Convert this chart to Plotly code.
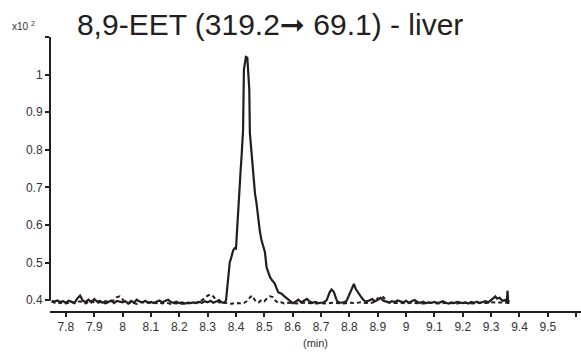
import plotly.graph_objects as go

# ---- data (time in min, intensity in x10^2 counts) ----
solid_t = [7.75, 7.76, 7.77, 7.78, 7.79, 7.80, 7.81, 7.82, 7.83, 7.84, 7.85, 7.86, 7.87, 7.88, 7.89,
           7.90, 7.91, 7.92, 7.93, 7.94, 7.95, 7.96, 7.97, 7.98, 7.99, 8.00, 8.01, 8.02, 8.03, 8.04,
           8.05, 8.06, 8.07, 8.08, 8.09, 8.10, 8.11, 8.12, 8.13, 8.14, 8.15, 8.16, 8.17, 8.18, 8.19,
           8.20, 8.21, 8.22, 8.23, 8.24, 8.25, 8.26, 8.27, 8.28, 8.29, 8.30, 8.31, 8.32, 8.33, 8.34,
           8.35, 8.36, 8.365, 8.372, 8.378, 8.384, 8.39, 8.395, 8.40, 8.405, 8.411, 8.416, 8.420,
           8.425, 8.428, 8.432, 8.435, 8.440, 8.444, 8.447, 8.449, 8.455, 8.460, 8.467, 8.472, 8.478,
           8.484, 8.490, 8.496, 8.502, 8.508, 8.514, 8.520, 8.528, 8.537, 8.543, 8.549, 8.555, 8.561,
           8.568, 8.578, 8.59, 8.60, 8.61, 8.62, 8.63, 8.64, 8.65, 8.66, 8.67, 8.68, 8.69, 8.70, 8.71,
           8.72, 8.73, 8.737, 8.745, 8.755, 8.76, 8.77, 8.78, 8.79, 8.80, 8.81, 8.816, 8.822, 8.83,
           8.84, 8.85, 8.86, 8.87, 8.88, 8.89, 8.90, 8.91, 8.92, 8.93, 8.94, 8.95, 8.96, 8.97, 8.98,
           8.99, 9.00, 9.01, 9.02, 9.03, 9.04, 9.05, 9.06, 9.07, 9.08, 9.09, 9.10, 9.11, 9.12, 9.13,
           9.14, 9.15, 9.16, 9.17, 9.18, 9.19, 9.20, 9.21, 9.22, 9.23, 9.24, 9.25, 9.26, 9.27, 9.28,
           9.29, 9.30, 9.31, 9.315, 9.32, 9.33, 9.34, 9.35, 9.355, 9.358, 9.36, 9.362]
solid_v = [0.398, 0.396, 0.399, 0.395, 0.397, 0.393, 0.398, 0.396, 0.392, 0.404, 0.412, 0.398, 0.395, 0.401, 0.394,
           0.403, 0.396, 0.398, 0.393, 0.397, 0.395, 0.399, 0.392, 0.398, 0.396, 0.394, 0.397, 0.391, 0.398, 0.393,
           0.401, 0.396, 0.394, 0.398, 0.393, 0.395, 0.392, 0.396, 0.399, 0.394, 0.397, 0.401, 0.395, 0.393, 0.396,
           0.392, 0.394, 0.391, 0.393, 0.392, 0.394, 0.392, 0.395, 0.393, 0.397, 0.394, 0.398, 0.393, 0.396, 0.400,
           0.394, 0.393, 0.400, 0.450, 0.500, 0.515, 0.532, 0.538, 0.537, 0.600, 0.693, 0.740, 0.786,
           0.853, 1.013, 1.030, 1.047, 1.045, 1.000, 0.960, 0.845, 0.786, 0.740, 0.684, 0.660, 0.612,
           0.585, 0.559, 0.545, 0.528, 0.487, 0.472, 0.461, 0.452, 0.444, 0.432, 0.421, 0.419, 0.417,
           0.412, 0.405, 0.398, 0.392, 0.396, 0.401, 0.394, 0.398, 0.403, 0.396, 0.393, 0.395, 0.392, 0.393, 0.394,
           0.400, 0.420, 0.428, 0.422, 0.400, 0.395, 0.393, 0.394, 0.398, 0.415, 0.430, 0.443, 0.430, 0.420,
           0.410, 0.400, 0.396, 0.399, 0.403, 0.397, 0.400, 0.406, 0.398, 0.396, 0.393, 0.397, 0.395, 0.399, 0.396,
           0.394, 0.398, 0.393, 0.397, 0.400, 0.395, 0.393, 0.396, 0.392, 0.394, 0.393, 0.395, 0.392, 0.394, 0.397,
           0.393, 0.391, 0.394, 0.392, 0.395, 0.393, 0.392, 0.394, 0.391, 0.395, 0.393, 0.396, 0.392, 0.395, 0.397,
           0.394, 0.400, 0.408, 0.410, 0.404, 0.406, 0.398, 0.400, 0.395, 0.425, 0.390, 0.400]

dash_t = [7.75, 7.76, 7.77, 7.78, 7.79, 7.80, 7.81, 7.82, 7.83, 7.84, 7.85, 7.86, 7.87, 7.88, 7.89,
          7.90, 7.91, 7.92, 7.93, 7.94, 7.95, 7.96, 7.97, 7.98, 7.99, 8.00, 8.01, 8.02, 8.03, 8.04,
          8.05, 8.06, 8.07, 8.08, 8.09, 8.10, 8.11, 8.12, 8.13, 8.14, 8.15, 8.16, 8.17, 8.18, 8.19,
          8.20, 8.21, 8.22, 8.23, 8.24, 8.25, 8.26, 8.27, 8.28, 8.29, 8.30, 8.31, 8.32, 8.33, 8.34,
          8.35, 8.36, 8.37, 8.38, 8.39, 8.40, 8.41, 8.42, 8.43, 8.44, 8.45, 8.457, 8.465, 8.47, 8.48,
          8.49, 8.50, 8.51, 8.52, 8.53, 8.54, 8.55, 8.56, 8.57, 8.58, 8.60, 8.62, 8.64, 8.66, 8.68,
          8.70, 8.72, 8.74, 8.76, 8.78, 8.80, 8.82, 8.84, 8.86, 8.88, 8.89, 8.90, 8.91, 8.92, 8.93,
          8.94, 8.96, 8.98, 9.00, 9.02, 9.04, 9.06, 9.08, 9.10, 9.12, 9.14, 9.16, 9.18, 9.20, 9.22,
          9.24, 9.26, 9.28, 9.30, 9.32, 9.34, 9.36]
dash_v = [0.396, 0.393, 0.395, 0.392, 0.394, 0.391, 0.393, 0.396, 0.392, 0.394, 0.397, 0.393, 0.391, 0.395, 0.398,
          0.394, 0.392, 0.395, 0.393, 0.391, 0.394, 0.396, 0.400, 0.408, 0.410, 0.402, 0.393, 0.391, 0.394, 0.392,
          0.390, 0.393, 0.395, 0.392, 0.394, 0.391, 0.393, 0.392, 0.394, 0.391, 0.393, 0.392, 0.390, 0.392, 0.391,
          0.393, 0.390, 0.392, 0.391, 0.393, 0.391, 0.393, 0.396, 0.400, 0.405, 0.412, 0.415, 0.410, 0.400, 0.394,
          0.392, 0.394, 0.391, 0.390, 0.391, 0.390, 0.392, 0.390, 0.393, 0.398, 0.408, 0.412, 0.402, 0.396, 0.394,
          0.400, 0.397, 0.405, 0.410, 0.408, 0.398, 0.392, 0.394, 0.391, 0.393, 0.392, 0.391, 0.393, 0.392, 0.391,
          0.392, 0.391, 0.393, 0.392, 0.391, 0.393, 0.392, 0.394, 0.392, 0.393, 0.396, 0.405, 0.402, 0.408, 0.398,
          0.394, 0.392, 0.393, 0.391, 0.393, 0.392, 0.391, 0.393, 0.392, 0.391, 0.393, 0.392, 0.391, 0.393, 0.392,
          0.391, 0.393, 0.392, 0.394, 0.393, 0.392, 0.393]

x_ticks = [7.8, 7.9, 8.0, 8.1, 8.2, 8.3, 8.4, 8.5, 8.6, 8.7, 8.8, 8.9, 9.0, 9.1, 9.2, 9.3, 9.4, 9.5, 9.6]
x_labels = ["7.8", "7.9", "8", "8.1", "8.2", "8.3", "8.4", "8.5", "8.6", "8.7", "8.8", "8.9",
            "9", "9.1", "9.2", "9.3", "9.4", "9.5", ""]
y_ticks = [0.4, 0.5, 0.6, 0.7, 0.8, 0.9, 1.0, 1.1]
y_labels = ["0.4", "0.5", "0.6", "0.7", "0.8", "0.9", "1", ""]

title_text = "8,9-EET (319.2<span style='font-family:DejaVu Sans'>\u279e</span> 69.1) - liver"
INK = "#231f20"
FONT = "Arial, Liberation Sans, sans-serif"

fig = go.Figure()
fig.add_trace(go.Scatter(x=dash_t, y=dash_v, mode="lines",
                         line=dict(color=INK, width=2, dash="4px,3px")))
fig.add_trace(go.Scatter(x=solid_t, y=solid_v, mode="lines",
                         line=dict(color=INK, width=2.2)))

fig.update_layout(
    width=581, height=354,
    margin=dict(l=50, r=0, t=37, b=43),
    paper_bgcolor="white", plot_bgcolor="white",
    showlegend=False,
    font=dict(family=FONT, color="#333333", size=12),
    title=dict(text=title_text, x=0.465, xref="container", xanchor="center",
               y=0.93, yref="container", yanchor="middle",
               font=dict(family=FONT, size=30, color=INK)),
    xaxis=dict(range=[7.744, 9.617], tickvals=x_ticks, ticktext=x_labels,
               showline=True, linecolor=INK, linewidth=1.5,
               ticks="outside", ticklen=4, tickwidth=1.5, tickcolor=INK,
               showgrid=False, zeroline=False,
               tickfont=dict(size=12, color="#333333"),
               title=dict(text="(min)", font=dict(size=11, color="#333333"), standoff=6)),
    yaxis=dict(range=[0.371, 1.1], tickvals=y_ticks, ticktext=y_labels,
               showline=False, ticks="outside", ticklen=4, tickwidth=1.5, tickcolor=INK,
               showgrid=False, zeroline=False,
               tickfont=dict(size=12, color="#333333")),
)

# y axis line (stops at the baseline, separated from the x axis line)
fig.add_shape(type="line", xref="paper", yref="y", x0=0, x1=0, y0=0.398, y1=1.1,
              line=dict(color=INK, width=2))

fig.add_annotation(text="x10 <sup>2</sup>", xref="paper", yref="paper",
                   x=-0.075, y=1.04, xanchor="left", yanchor="middle",
                   showarrow=False, font=dict(size=10, color="#333333", family=FONT))

fig.write_html("out.html")
